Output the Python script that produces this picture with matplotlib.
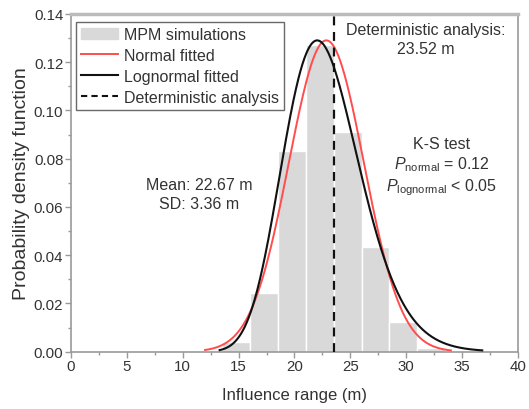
import numpy as np
import matplotlib
matplotlib.use("Agg")
import matplotlib.pyplot as plt
from matplotlib.ticker import MultipleLocator, FormatStrFormatter
from matplotlib.patches import Patch
from matplotlib.lines import Line2D

plt.rcParams['font.family'] = ['Liberation Sans', 'DejaVu Sans']
plt.rcParams['mathtext.fontset'] = 'custom'
plt.rcParams['mathtext.rm'] = 'Liberation Sans'
plt.rcParams['mathtext.it'] = 'Liberation Sans:italic'

# Histogram data (bin edges and densities)
bin_edges = [13.5, 16.0, 18.5, 21.0, 23.5, 26.0, 28.5, 31.0, 33.5]
densities = [0.004, 0.0245, 0.083, 0.127, 0.091, 0.0435, 0.0125, 0.0015]

# Fitted curve parameters (as drawn)
normal_mu, normal_sigma, normal_scale = 22.85, 3.36, 1.087
normal_range = (12.0, 34.0)
logn_mu, logn_s, logn_scale = 3.1165, 0.155, 1.118
logn_range = (13.3, 36.8)

deterministic_value = 23.52

xticks = [0, 5, 10, 15, 20, 25, 30, 35, 40]
yticks = [0.00, 0.02, 0.04, 0.06, 0.08, 0.10, 0.12, 0.14]

text_col = '#333333'
spine_col = '#999999'
fs = 11.5

fig = plt.figure(figsize=(5.29, 4.10), dpi=100)
ax = fig.add_axes([0.1342, 0.1398, 0.845, 0.8237])

edges = np.array(bin_edges)
ax.bar(edges[:-1], densities, width=np.diff(edges), align='edge',
       color='#d9d9d9', edgecolor='white', linewidth=1.0, zorder=1)

xn = np.linspace(*normal_range, 400)
yn = normal_scale * np.exp(-0.5 * ((xn - normal_mu) / normal_sigma) ** 2) / (normal_sigma * np.sqrt(2 * np.pi))
ax.plot(xn, yn, color='#ff4d4d', lw=1.4, zorder=3)

xl = np.linspace(*logn_range, 400)
yl = logn_scale * np.exp(-0.5 * ((np.log(xl) - logn_mu) / logn_s) ** 2) / (xl * logn_s * np.sqrt(2 * np.pi))
ax.plot(xl, yl, color='#111111', lw=1.5, zorder=4)

ax.plot([deterministic_value, deterministic_value], [0, 0.14], color='#111111',
        lw=1.6, ls=(0, (4, 3)), zorder=5)

ax.set_xlim(0, 40)
ax.set_ylim(0, 0.14)
ax.set_xticks(xticks)
ax.set_yticks(yticks)
ax.xaxis.set_minor_locator(MultipleLocator(2.5))
ax.yaxis.set_minor_locator(MultipleLocator(0.01))
ax.yaxis.set_major_formatter(FormatStrFormatter('%.2f'))
ax.tick_params(which='major', direction='out', length=4, width=1, color=spine_col,
               labelsize=10.8, labelcolor=text_col, pad=1.5)
ax.tick_params(which='minor', direction='out', length=2.5, width=1, color=spine_col)
for s in ax.spines.values():
    s.set_color(spine_col)
    s.set_linewidth(1.2)
ax.spines['top'].set_linewidth(2.5)
ax.spines['top'].set_color('#bbbbbb')

ax.set_xlabel('Influence range (m)', fontsize=12, color=text_col, labelpad=10)
ax.set_ylabel('Probability density function', fontsize=14, color=text_col, labelpad=3)

handles = [Patch(facecolor='#d9d9d9', edgecolor='#d9d9d9'),
           Line2D([], [], color='#ff4d4d', lw=1.4),
           Line2D([], [], color='#111111', lw=1.5),
           Line2D([], [], color='#111111', lw=1.5, ls=(0, (3, 2)))]
labels = ['MPM simulations', 'Normal fitted', 'Lognormal fitted', 'Deterministic analysis']
leg = ax.legend(handles, labels, loc='upper left', bbox_to_anchor=(0.012, 0.976),
                fontsize=fs, frameon=True, fancybox=False, edgecolor='#444444',
                handlelength=2.3, handletextpad=0.4, labelspacing=0.38,
                borderpad=0.3, borderaxespad=0.0)
leg.get_frame().set_linewidth(1.0)
for t in leg.get_texts():
    t.set_color(text_col)

ax.text(31.75, 0.1365, 'Deterministic analysis:\n23.52 m', ha='center', va='top',
        fontsize=fs, color=text_col, linespacing=1.3)
ax.text(11.5, 0.0654, 'Mean: 22.67 m\nSD: 3.36 m', ha='center', va='center',
        fontsize=fs, color=text_col, linespacing=1.3)
ax.text(33.2, 0.0861, 'K-S test', ha='center', va='center', fontsize=fs, color=text_col)
ax.text(33.2, 0.0778, r'$P_{\mathrm{normal}}$ = 0.12', ha='center', va='center',
        fontsize=fs, color=text_col)
ax.text(33.2, 0.0682, r'$P_{\mathrm{lognormal}}$ < 0.05', ha='center', va='center',
        fontsize=fs, color=text_col)

fig.savefig('out.png', dpi=100)
